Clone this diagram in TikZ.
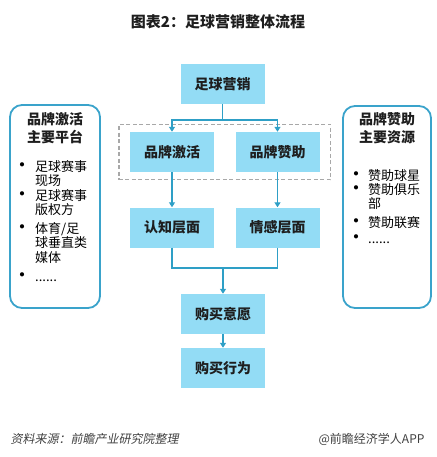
\documentclass[tikz,border=0pt]{standalone}
\usepackage{fontspec}
\setmainfont{Noto Sans CJK SC}
\newfontfamily\slantcjk[FakeSlant=0.2]{Noto Sans CJK SC}
\usetikzlibrary{arrows.meta,fit}
\definecolor{boxfill}{HTML}{93DCF5}
\definecolor{flowline}{HTML}{2E9FC6}
\definecolor{panelline}{HTML}{3AA3CB}
\definecolor{groupline}{HTML}{A8A8A8}
\definecolor{darktext}{HTML}{1E1E1E}
\tikzset{stage/.style={fill=boxfill, minimum width=84pt, minimum height=40pt, inner sep=0pt,
    text=darktext, font=\fontsize{14}{16}\selectfont\bfseries},
  link/.style={draw=flowline, line width=1.2pt},
  flow/.style={link, -{Triangle[width=6pt,length=5pt]}},
  panel/.style={draw=panelline, line width=1.8pt, rounded corners=12pt},
  itemtext/.style={anchor=base west, inner sep=0pt, align=left, text=black,
    font=\fontsize{13}{14.6}\selectfont},
  dot/.style={anchor=base, inner sep=0pt, text=black, font=\fontsize{15}{16}\selectfont\bfseries}}

\begin{document}
\begin{tikzpicture}[x=1pt, y=-1pt]

    \useasboundingbox (0,0) rectangle (436,457);

    \node[font=\fontsize{15}{17}\selectfont\bfseries, text=darktext] (title) at (218,22) {图表2：足球营销整体流程};

    \node[stage] (market)  at (222.5,84)  {足球营销};
    \node[stage] (activate) at (172,152)  {品牌激活};
    \node[stage] (sponsor) at (277.5,152) {品牌赞助};
    \node[stage] (cognit)  at (172,227.5) {认知层面};
    \node[stage] (emotion) at (277.5,227.5) {情感层面};
    \node[stage] (intent)  at (223,314)   {购买意愿};
    \node[stage] (action)  at (223,368)   {购买行为};

    \node[draw=groupline, line width=1.5pt, dash pattern=on 4pt off 2.5pt, inner xsep=11pt,
      inner ysep=7.5pt, fit=(activate)(sponsor)] (group) {};

    \coordinate (split) at (222.5,120);
    \coordinate (merge) at (223,268);

    \draw[link] (market) -- (split);
    \draw[flow] (split) -| (activate);
    \draw[flow] (split) -| (sponsor);
    \draw[flow] (activate) -- (cognit);
    \draw[flow] (sponsor) -- (emotion);
    \draw[link] (cognit) |- (merge);
    \draw[link] (emotion) |- (merge);
    \draw[flow] (merge) -- (intent);
    \draw[flow] (intent) -- (action);

    % left panel (dot on first line, text set from its last line)
    \draw[panel] (10,105) rectangle (100,308);
    \node[align=center, text=darktext, font=\fontsize{14}{18}\selectfont\bfseries] (lefthead) at (55,128) {品牌激活\\主要平台};
    \foreach \y/\last/\t [count=\i] in {170/185.6/{足球赛事\\现场}, 199/214.6/{足球赛事\\版权方}, 232/262.2/{体育/足\\球垂直类\\媒体}, 280/281/{......}}
    {
      \node[dot] (ldot\i) at (22,\y) {•};
      \node[itemtext] (litem\i) at (35,\last) {\t};
    }

    % right panel
    \draw[panel] (343,106) rectangle (431,308);
    \node[align=center, text=darktext, font=\fontsize{14}{18}\selectfont\bfseries] (righthead) at (387,128) {品牌赞助\\主要资源};
    \foreach \y/\last/\t [count=\i] in {179/180/{赞助球星}, 193/208.6/{赞助俱乐\\部}, 226/227/{赞助联赛}, 242/243/{......}}
    {
      \node[dot] (rdot\i) at (356,\y) {•};
      \node[itemtext] (ritem\i) at (368,\last) {\t};
    }

    \node[anchor=west, text=black!75, font=\fontsize{12}{14}\selectfont\slantcjk] (source) at (7,439) {资料来源：前瞻产业研究院整理};
    \node[anchor=east, text=black!75, font=\fontsize{12}{14}\selectfont] (brand) at (428,439) {@前瞻经济学人APP};

  \end{tikzpicture}
\end{document}
